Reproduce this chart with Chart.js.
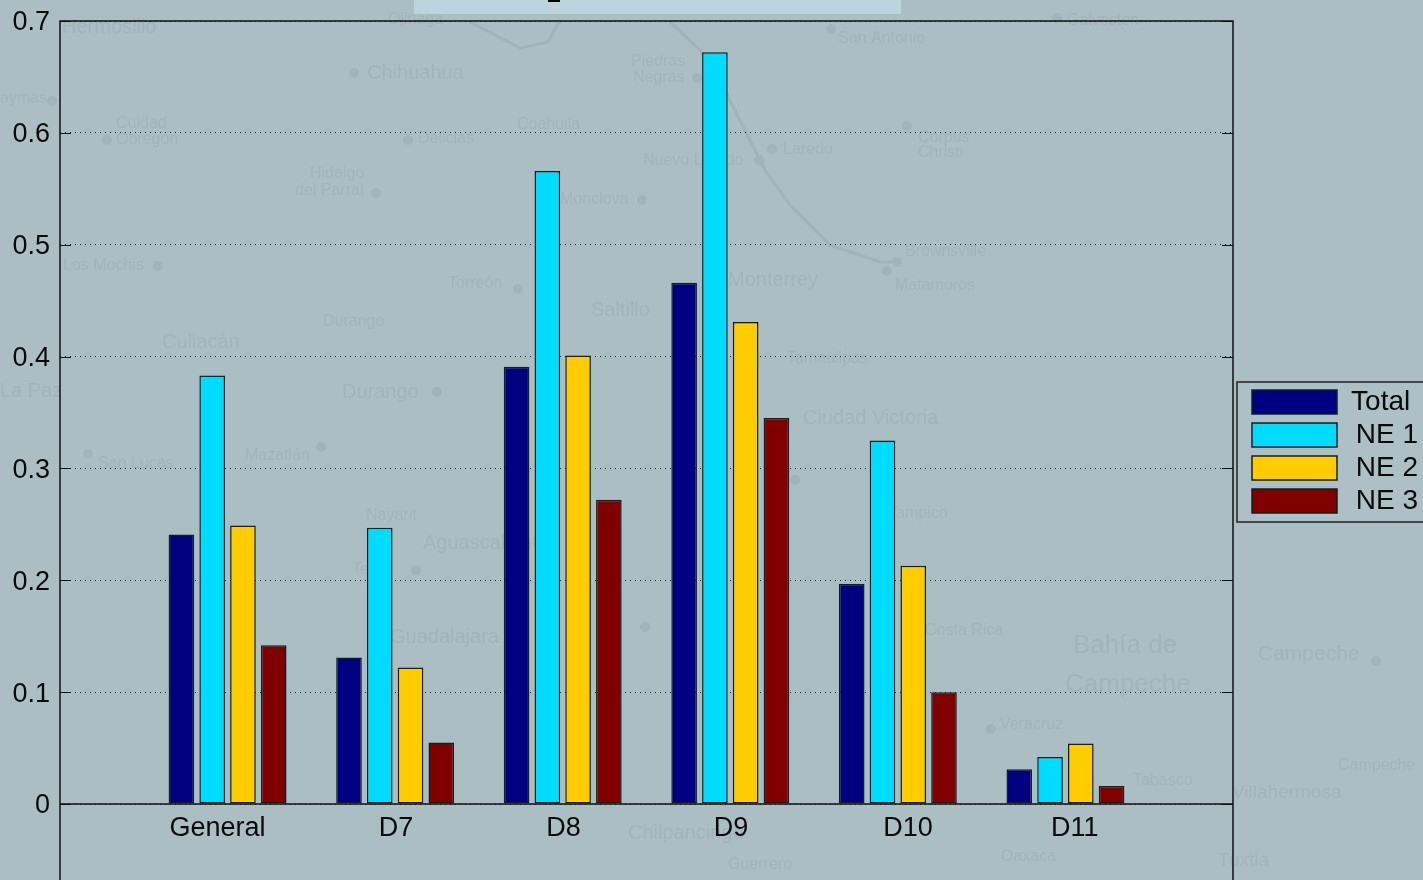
<!DOCTYPE html>
<html>
<head>
<meta charset="utf-8">
<title>Chart</title>
<script src="https://cdn.jsdelivr.net/npm/chart.js@4"></script>
<style>
  html, body { margin: 0; padding: 0; background: #abbec4; overflow: hidden; }
  canvas { display: block; }
</style>
</head>
<body>
<canvas id="myChart" width="1423" height="880"></canvas>
<script>
// values
var categories = ['General', 'D7', 'D8', 'D9', 'D10', 'D11'];
var groupPos = [1, 2, 3, 4, 5, 6];
// the labels are not quite centred under their groups in the original
var labelPos = [0.94, 2.005, 3.005, 4.005, 5.06, 6.055];

var total = [0.241, 0.131, 0.391, 0.466, 0.197, 0.031];
var ne1 = [0.383, 0.247, 0.566, 0.672, 0.325, 0.042];
var ne2 = [0.249, 0.122, 0.401, 0.431, 0.213, 0.054];
var ne3 = [0.142, 0.055, 0.272, 0.345, 0.100, 0.016];

var seriesNames = ['Total ', 'NE 1', 'NE 2', 'NE 3'];
var seriesColors = ['#000080', '#00dcff', '#ffcc00', '#800000'];

// faint map behind the chart: name, x, y, size
var mapNames = [
  ['Hermosillo', 62, 27, 20], ['aymas', 0, 99, 16], ['Cuidad', 116, 124, 16], ['Obregón', 116, 140, 16],
  ['Chihuahua', 367, 73, 20], ['Ojinaga', 388, 20, 16], ['Delicias', 418, 139, 16], ['Hidalgo', 310, 174, 16],
  ['del Parral', 295, 191, 16], ['Los Mochis', 63, 266, 16], ['Culiacán', 162, 342, 20], ['Durango', 323, 322, 16],
  ['Durango', 342, 392, 20], ['La Paz', 0, 391, 20], ['Mazatlán', 245, 456, 16], ['San Lucas', 98, 464, 16],
  ['Torreón', 448, 284, 16], ['Saltillo', 591, 310, 20], ['Monclova', 560, 200, 16], ['Coahuila', 517, 125, 16],
  ['Piedras', 631, 62, 16], ['Negras', 633, 78, 16], ['Nuevo Laredo', 643, 161, 16], ['Laredo', 783, 150, 16],
  ['San Antonio', 838, 39, 16], ['Galveston', 1067, 21, 16], ['Corpus', 918, 138, 16], ['Christi', 918, 153, 16],
  ['Brownsville', 905, 252, 16], ['Matamoros', 895, 286, 16], ['Monterrey', 728, 280, 20], ['Tamaulipas', 787, 359, 16],
  ['Ciudad Victoria', 803, 418, 20], ['Tampico', 888, 514, 16], ['Veracruz', 1000, 725, 16], ['Bahía de', 1073, 646, 26],
  ['Campeche', 1065, 685, 26], ['Campeche', 1258, 654, 21], ['Campeche', 1338, 766, 16], ['Villahermosa', 1232, 793, 19],
  ['Tabasco', 1133, 781, 16], ['Tuxtla', 1218, 861, 19], ['Oaxaca', 1001, 857, 16], ['Guerrero', 728, 865, 16],
  ['Chilpancingo', 628, 833, 20], ['Aguascalientes', 423, 543, 20], ['Guadalajara', 390, 637, 20], ['Nayarit', 366, 516, 16],
  ['Tepic', 352, 570, 16], ['Costa Rica', 925, 631, 16]
];
var mapDots = [
  [354, 73], [408, 140], [376, 193], [52, 101], [107, 140], [158, 266], [437, 392], [321, 447], [88, 454],
  [518, 289], [642, 200], [697, 78], [759, 160], [772, 149], [831, 29], [1057, 18], [907, 126], [887, 271],
  [897, 262], [795, 480], [416, 570], [645, 627], [991, 729], [1376, 661]
];
var mapRivers = [
  [[670, 22], [700, 50], [722, 85], [765, 170], [790, 205], [830, 245], [880, 262], [900, 262]],
  [[470, 22], [520, 48], [548, 42], [560, 20]]
];

var PLOT_LEFT = 60, PLOT_TOP = 21, PLOT_RIGHT = 1233, PLOT_BOTTOM = 804;
var BG = '#abbec4';

var backdrop = {
  id: 'backdrop',
  beforeDraw: function (chart) {
    var c = chart.ctx;
    c.save();
    c.fillStyle = BG;
    c.fillRect(0, 0, 1423, 880);

    // map
    c.strokeStyle = '#a0b3b9';
    c.lineWidth = 3;
    mapRivers.forEach(function (r) {
      c.beginPath();
      r.forEach(function (p, i) { i ? c.lineTo(p[0], p[1]) : c.moveTo(p[0], p[1]); });
      c.stroke();
    });
    c.fillStyle = '#a1b4ba';
    mapDots.forEach(function (d) {
      c.beginPath();
      c.arc(d[0], d[1], 5, 0, Math.PI * 2);
      c.fill();
    });
    c.textBaseline = 'middle';
    c.textAlign = 'left';
    mapNames.forEach(function (m) {
      c.font = m[3] + 'px "Liberation Sans"';
      c.fillText(m[0], m[1], m[2]);
    });

    // light band at the top, left of a cut off title
    c.fillStyle = '#bcd5dc';
    c.fillRect(414, 0, 487, 14);
    c.fillStyle = '#000';
    c.fillRect(548, 0, 12, 2);

    // legend box
    c.fillStyle = '#adc0c6';
    c.fillRect(1237, 382, 190, 140);
    c.strokeStyle = '#222';
    c.lineWidth = 1.5;
    c.strokeRect(1237, 382, 190, 140);
    c.restore();
  },
  afterLayout: function (chart) {
    var l = chart.legend;
    l.left = 1247;
    l.right = 1418;
    l.top = 383;
    l.bottom = 522;
    l.width = l.right - l.left;
    l.height = l.bottom - l.top;
  },
  afterDatasetsDraw: function (chart) {
    var c = chart.ctx;
    var y = chart.scales.y;
    c.save();
    c.strokeStyle = '#111';
    c.lineWidth = 1.5;
    c.beginPath();
    c.moveTo(PLOT_LEFT, 880);
    c.lineTo(PLOT_LEFT, PLOT_TOP);
    c.lineTo(PLOT_RIGHT, PLOT_TOP);
    c.lineTo(PLOT_RIGHT, 880);
    c.moveTo(PLOT_LEFT, PLOT_BOTTOM);
    c.lineTo(PLOT_RIGHT, PLOT_BOTTOM);
    c.stroke();
    // inward ticks
    c.lineWidth = 1;
    c.beginPath();
    y.ticks.forEach(function (t, i) {
      var py = Math.round(y.getPixelForTick(i)) + 0.5;
      c.moveTo(PLOT_LEFT, py);
      c.lineTo(PLOT_LEFT + 11, py);
      c.moveTo(PLOT_RIGHT - 11, py);
      c.lineTo(PLOT_RIGHT, py);
    });
    c.stroke();
    c.restore();
  }
};

function series(i, values) {
  return {
    label: seriesNames[i],
    data: values.map(function (v, k) { return { x: groupPos[k], y: v }; }),
    backgroundColor: seriesColors[i],
    borderColor: '#10201f',
    borderWidth: 1.5,
    borderSkipped: false,
    barPercentage: 0.833,
    categoryPercentage: 0.738
  };
}

var ctx = document.getElementById('myChart').getContext('2d');
var myChart = new Chart(ctx, {
  type: 'bar',
  data: {
    datasets: [series(0, total), series(1, ne1), series(2, ne2), series(3, ne3)]
  },
  options: {
    responsive: false,
    animation: false,
    layout: { padding: { top: PLOT_TOP, right: 1423 - PLOT_RIGHT, left: 0, bottom: 0 } },
    plugins: {
      tooltip: { enabled: false },
      legend: {
        position: 'chartArea',
        align: 'start',
        labels: {
          boxWidth: 85,
          boxHeight: 24,
          padding: 5,
          color: '#0a0a0a',
          textAlign: 'right',
          font: { family: '"Liberation Sans"', size: 28 }
        }
      }
    },
    scales: {
      x: {
        type: 'linear',
        min: 0,
        max: 7,
        offset: false,
        border: { display: false },
        grid: { display: false },
        afterBuildTicks: function (axis) {
          axis.ticks = labelPos.map(function (v) { return { value: v }; });
        },
        afterFit: function (axis) { axis.height = 880 - PLOT_BOTTOM; },
        ticks: {
          autoSkip: false,
          maxRotation: 0,
          padding: 0,
          color: '#0a0a0a',
          font: { family: '"Liberation Sans"', size: 27 },
          callback: function (value, index) { return categories[index]; }
        }
      },
      y: {
        min: 0,
        max: 0.7,
        border: { display: false, dash: [1, 4] },
        grid: { color: '#222', drawTicks: false, lineWidth: 1 },
        afterFit: function (axis) {
          axis.width = PLOT_LEFT;
          axis.paddingTop = 0;
          axis.paddingBottom = 0;
        },
        ticks: {
          stepSize: 0.1,
          padding: 10,
          labelOffset: 2,
          color: '#0a0a0a',
          font: { family: '"Liberation Sans"', size: 27 },
          callback: function (v) { return v === 0 ? '0' : v.toFixed(1); }
        }
      }
    }
  },
  plugins: [backdrop]
});
</script>
</body>
</html>
